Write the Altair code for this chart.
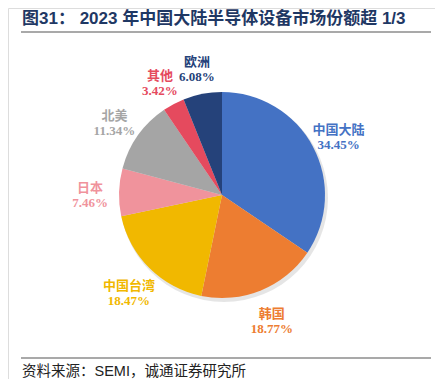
import altair as alt
import pandas as pd

names = ["中国大陆", "韩国", "中国台湾", "日本", "北美", "其他", "欧洲"]
shares = [34.45, 18.77, 18.47, 7.46, 11.34, 3.42, 6.08]
colors = ["#4472C4", "#ED7D31", "#F1B800", "#F0939C", "#A5A5A5", "#E54A5E", "#25427A"]

title_text = "图31：  2023 年中国大陆半导体设备市场份额超 1/3"
source_text = "资料来源：SEMI，诚通证券研究所"

df = pd.DataFrame({"name": names, "share": shares, "idx": list(range(len(names)))})
df["label"] = [f"{n}\n{v:.2f}%" for n, v in zip(names, shares)]

CX, CY, R = 214, 187, 103

color = alt.Color("name:N", scale=alt.Scale(domain=names, range=colors), legend=None)
theta = alt.Theta("share:Q", stack=True)
order = alt.Order("idx:Q")

base = alt.Chart(df)

shadow = alt.Chart(pd.DataFrame({"k": [0]})).mark_arc(
    radius=R + 1, color="#000000", opacity=0.10
).encode(
    theta=alt.value(0), theta2=alt.value(6.2832),
    x=alt.value(CX + 2), y=alt.value(CY + 3)
)

pie = base.mark_arc(radius=R, stroke=None).encode(
    theta=theta, color=color, order=order,
    x=alt.value(CX), y=alt.value(CY)
)

labels = base.mark_text(
    radius=132, dy=-3, fontSize=13, fontWeight="bold", lineBreak="\n", lineHeight=15,
    font="Liberation Serif, Noto Sans CJK SC", align="center", baseline="middle"
).encode(
    theta=theta, color=color, order=order, text="label:N",
    x=alt.value(CX), y=alt.value(CY)
)

tdf = pd.DataFrame({"t": [title_text]})
title = alt.Chart(tdf).mark_text(
    fontSize=17, fontWeight="bold", color="#1F3864", align="left", baseline="middle",
    font="Liberation Sans, Noto Sans CJK SC"
).encode(text="t:N", x=alt.value(14), y=alt.value(11))

sdf = pd.DataFrame({"t": [source_text]})
source = alt.Chart(sdf).mark_text(
    fontSize=14.5, color="#222222", align="left", baseline="middle",
    font="Liberation Sans, Noto Sans CJK SC"
).encode(text="t:N", x=alt.value(14), y=alt.value(364))

rule_top = alt.Chart(tdf).mark_rule(color="#8C8C8C", strokeWidth=1.5).encode(
    x=alt.value(13), x2=alt.value(423), y=alt.value(24)
)
rule_bot = alt.Chart(tdf).mark_rule(color="#8C8C8C", strokeWidth=1.5).encode(
    x=alt.value(13), x2=alt.value(423), y=alt.value(350)
)

chart = alt.layer(shadow, pie, labels, title, source, rule_top, rule_bot).properties(
    width=427, height=371, padding=0, autosize=alt.AutoSizeParams(type="none")
).configure_view(stroke=None).configure(background="white")

chart.save("out.html", embed_options={"renderer": "svg", "actions": False})
